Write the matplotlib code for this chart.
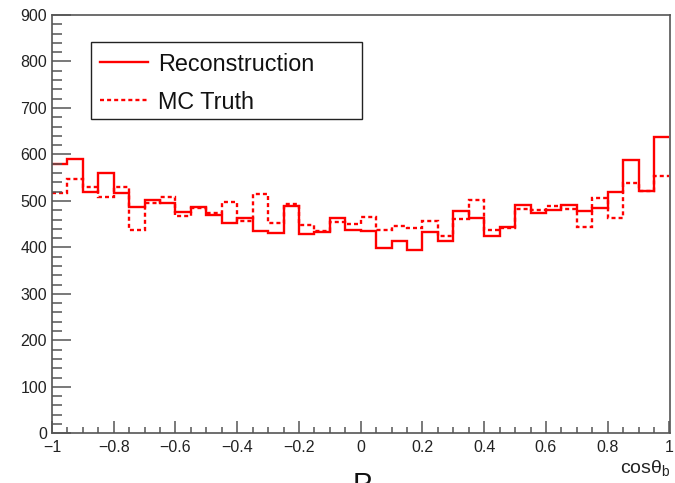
import numpy as np
import matplotlib
matplotlib.use('Agg')
import matplotlib.pyplot as plt
from matplotlib.patches import Rectangle
from matplotlib.lines import Line2D

plt.rcParams['font.family'] = ['Liberation Sans', 'DejaVu Sans']
plt.rcParams['mathtext.fontset'] = 'custom'
plt.rcParams['mathtext.rm'] = 'Liberation Sans'
plt.rcParams['mathtext.it'] = 'Liberation Sans'

# 40 bins of cos(theta_b) from -1 to 1
bin_edges = np.linspace(-1, 1, 41)

reco = [580, 591, 519, 559, 516, 486, 503, 495, 476, 486,
        470, 452, 463, 436, 432, 488, 429, 433, 463, 438,
        435, 399, 413, 395, 433, 413, 478, 463, 425, 443,
        491, 475, 480, 491, 478, 485, 519, 587, 522, 637]

truth = [518, 548, 529, 509, 529, 438, 496, 508, 468, 485,
         473, 498, 457, 515, 453, 494, 449, 436, 454, 450,
         466, 438, 447, 441, 456, 425, 461, 502, 438, 442,
         482, 480, 489, 482, 444, 506, 463, 538, 522, 553]

W, H = 675, 483
fig = plt.figure(figsize=(W / 100, H / 100), dpi=100)
ax = fig.add_axes([52 / W, 1 - 433.3 / H, (669.5 - 52) / W, (433.3 - 15) / H])

red = '#ff0000'
ax.stairs(reco, bin_edges, baseline=None, color=red, lw=1.7)
ax.stairs(truth, bin_edges, baseline=None, color=red, lw=1.7,
          linestyle=(0, (1.7, 1.3)))

ax.set_xlim(-1, 1)
ax.set_ylim(0, 900)
ax.set_xticks(np.arange(-1, 1.01, 0.2))
ax.set_xticks(np.arange(-1, 1.01, 0.05), minor=True)
ax.set_yticks(np.arange(0, 901, 100))
ax.set_yticks(np.arange(0, 901, 20), minor=True)
ax.set_xticklabels(['\u22121', '\u22120.8', '\u22120.6', '\u22120.4', '\u22120.2',
                    '0', '0.2', '0.4', '0.6', '0.8', '1'])

spine_col = '#555555'
for s in ax.spines.values():
    s.set_color(spine_col)
    s.set_linewidth(1.2)
ax.tick_params(axis='both', which='both', direction='in', color=spine_col,
               labelsize=11.5, labelcolor='#222222', top=False, right=False)
ax.tick_params(axis='x', which='major', length=8.5, width=1.1, pad=5)
ax.tick_params(axis='x', which='minor', length=4.3, width=1.1)
ax.tick_params(axis='y', which='major', length=14, width=1.1, pad=3.5)
ax.tick_params(axis='y', which='minor', length=7, width=1.1)

# x-axis title at the right end, below the tick labels
fig.text(670 / W, 1 - 473 / H, r'cos$\theta_{\mathrm{b}}$', ha='right', va='baseline',
         fontsize=14, color='#222222')

# legend box drawn ROOT-style
fig.patches.append(Rectangle((90.7 / W, 1 - 119.3 / H), (361.7 - 90.7) / W, (119.3 - 41.7) / H,
                             transform=fig.transFigure, fill=False, edgecolor='#222222', lw=1.0))
fig.lines.append(Line2D([100 / W, 148 / W], [1 - 61.7 / H] * 2, transform=fig.transFigure,
                        color=red, lw=1.7))
fig.lines.append(Line2D([100 / W, 148 / W], [1 - 100 / H] * 2, transform=fig.transFigure,
                        color=red, lw=1.7, linestyle=(0, (1.7, 1.3))))
fig.text(158 / W, 1 - 61.7 / H, 'Reconstruction', ha='left', va='center_baseline',
         fontsize=16.8, color='#111111')
fig.text(158 / W, 1 - 100 / H, 'MC Truth', ha='left', va='center_baseline',
         fontsize=16.8, color='#111111')

# cut-off panel label at the bottom
fig.text(362 / W, 1 - 471 / H, 'P', ha='center', va='top', fontsize=21, color='#111111')

fig.savefig('out.png', dpi=100, facecolor='white')
